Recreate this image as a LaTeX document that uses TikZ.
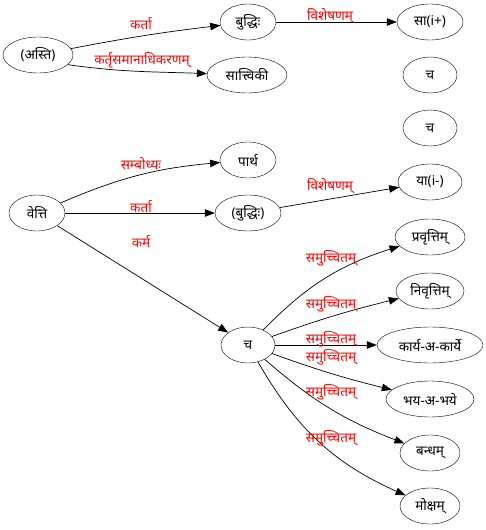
\documentclass[tikz,border=0pt]{standalone}
\usepackage{fontspec}
\setmainfont{Noto Sans}[Script=Devanagari]
\usetikzlibrary{shapes.geometric,arrows.meta}
\begin{document}
\begin{tikzpicture}[x=1pt,y=-1pt,
  nd/.style={draw,ellipse,inner sep=0pt,minimum height=36pt,font=\fontsize{13.5}{15}\selectfont},
  lb/.style={text=red,inner sep=0pt,font=\fontsize{13.5}{15}\selectfont},
  ar/.style={-{Triangle[length=10pt,width=7.5pt]},line width=0.7pt}]
\useasboundingbox (0,0) rectangle (485,530);
% nodes
\node[nd,minimum width=70pt] (asti) at (38,55) {(अस्ति)};
\node[nd,minimum width=56pt] (buddhi) at (248,22) {बुद्धिः};
\node[nd,minimum width=66pt] (sa) at (430,22) {सा(i+)};
\node[nd,minimum width=80pt] (sattviki) at (247,75) {सात्त्विकी};
\node[nd,minimum width=54pt] (ca1) at (430,75) {च};
\node[nd,minimum width=54pt] (ca2) at (430,128) {च};
\node[nd,minimum width=56pt] (partha) at (248,160) {पार्थ};
\node[nd,minimum width=56pt] (vetti) at (37,213) {वेत्ति};
\node[nd,minimum width=66pt] (buddhi2) at (248,213) {(बुद्धिः)};
\node[nd,minimum width=64pt] (ya) at (430,182) {या(i-)};
\node[nd,minimum width=70pt] (pravr) at (430,237) {प्रवृत्तिम्};
\node[nd,minimum width=68pt] (nivr) at (430,291) {निवृत्तिम्};
\node[nd,minimum width=106pt] (karya) at (430,345) {कार्य-अ-कार्ये};
\node[nd,minimum width=54pt] (ca3) at (248,345) {च};
\node[nd,minimum width=88pt] (bhaya) at (430,399) {भय-अ-भये};
\node[nd,minimum width=60pt] (bandha) at (430,453) {बन्धम्};
\node[nd,minimum width=60pt] (moksa) at (430,506) {मोक्षम्};
% edges
\draw[ar] (asti) to[bend left=2] (buddhi);
\draw[ar] (asti.-18) to[out=-8,in=178] (sattviki);
\draw[ar] (buddhi) -- (sa);
\draw[ar] (vetti) to[bend left=9] (partha);
\draw[ar] (vetti) -- (buddhi2);
\draw[ar] (buddhi2) -- (ya);
\draw[ar] (vetti) -- (ca3);
\draw[ar] (ca3) to[bend left=14] (pravr);
\draw[ar] (ca3) to[bend left=3] (nivr);
\draw[ar] (ca3) -- (karya);
\draw[ar] (ca3) to[bend right=3] (bhaya);
\draw[ar] (ca3) to[bend right=10] (bandha);
\draw[ar] (ca3) to[bend right=18] (moksa);
% labels
\node[lb] (l1) at (141,24) {कर्ता};
\node[lb] (l2) at (142,60) {कर्तृसमानाधिकरणम्};
\node[lb] (l3) at (330,16) {विशेषणम्};
\node[lb] (l4) at (141,164) {सम्बोध्यः};
\node[lb] (l5) at (141,207) {कर्ता};
\node[lb] (l6) at (141,241) {कर्म};
\node[lb] (l7) at (330,186) {विशेषणम्};
\node[lb] (l8) at (331,258) {समुच्चितम्};
\node[lb] (l9) at (331,304) {समुच्चितम्};
\node[lb] (l10) at (331,339) {समुच्चितम्};
\node[lb] (l11) at (331,357) {समुच्चितम्};
\node[lb] (l12) at (331,392) {समुच्चितम्};
\node[lb] (l13) at (331,438) {समुच्चितम्};
\end{tikzpicture}
\end{document}
